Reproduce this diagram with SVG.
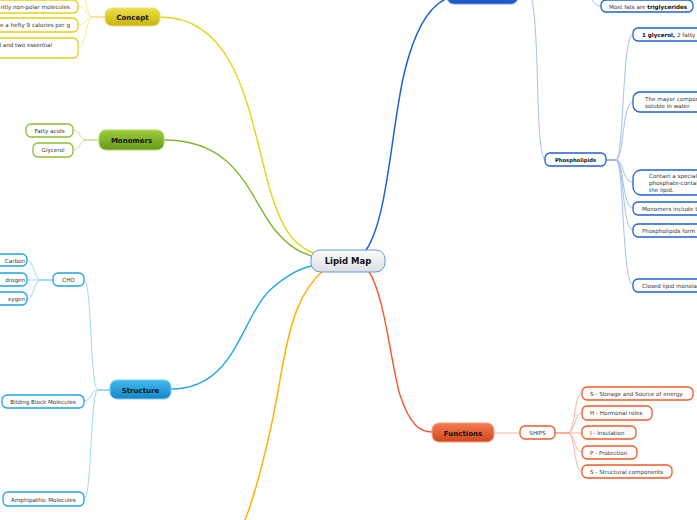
<svg xmlns="http://www.w3.org/2000/svg" width="697" height="520" viewBox="0 0 697 520">
<defs>
<linearGradient id="gC" x1="0" y1="0" x2="0" y2="1"><stop offset="0" stop-color="#fbfbfb"/><stop offset="1" stop-color="#dcdfe3"/></linearGradient>
<linearGradient id="gY" x1="0" y1="0" x2="0" y2="1"><stop offset="0" stop-color="#eee04a"/><stop offset="1" stop-color="#c7b30a"/></linearGradient>
<linearGradient id="gG" x1="0" y1="0" x2="0" y2="1"><stop offset="0" stop-color="#9ccc3c"/><stop offset="1" stop-color="#67981a"/></linearGradient>
<linearGradient id="gB" x1="0" y1="0" x2="0" y2="1"><stop offset="0" stop-color="#40bbf0"/><stop offset="1" stop-color="#1485c6"/></linearGradient>
<linearGradient id="gR" x1="0" y1="0" x2="0" y2="1"><stop offset="0" stop-color="#f47c52"/><stop offset="1" stop-color="#d0461c"/></linearGradient>
<linearGradient id="gD" x1="0" y1="0" x2="0" y2="1"><stop offset="0" stop-color="#3b7fe0"/><stop offset="1" stop-color="#1a55c0"/></linearGradient>
</defs>
<style>
text{font-family:"DejaVu Sans","Liberation Sans",sans-serif;fill:#333}
.main{font-size:7px;font-weight:bold;fill:#111;text-anchor:middle}
.c{font-size:5.6px}
.m{text-anchor:middle}
.e{text-anchor:end}
.b{font-weight:bold;fill:#111}
.sm{font-size:5.2px}
.box{fill:#fff;stroke-width:1.3}
.y{stroke:#e6d010}.g{stroke:#8cc02c}.s{stroke:#1ea2e8}.p{stroke:#1f62d6}.r{stroke:#f05a28}
path{fill:none}
</style>
<g id="connectors">
<path d="M160,17 C240,17 250,120 270,190 C285,240 300,248 316,254" stroke="#e8d21a" stroke-width="1.4"/>
<path d="M164,140 C240,140 250,200 275,230 C290,248 300,252 314,257" stroke="#84b82a" stroke-width="1.4"/>
<path d="M171,389 C235,389 240,320 270,290 C290,272 305,266 318,265" stroke="#1eaaea" stroke-width="1.4"/>
<path d="M325,269 C300,290 290,320 280,380 C270,440 255,495 245,520" stroke="#ffb000" stroke-width="1.5"/>
<path d="M368,270 C385,295 390,360 400,395 C410,425 420,432 432,432" stroke="#f05a28" stroke-width="1.4"/>
<path d="M366,250 C388,220 392,120 405,70 C415,30 430,5 448,-2" stroke="#1f62d6" stroke-width="1.5"/>
<g stroke="#9ab8ee" stroke-width="0.9">
<path d="M532,0 C540,40 535,150 545,160"/>
<path d="M590,-6 C593,4 597,6 601,6"/>
<path d="M606,160 L616,160 C624,160 622,34 633,34"/>
<path d="M606,160 L616,160 C624,160 622,102 633,102"/>
<path d="M606,160 L616,160 C624,160 622,182 633,182"/>
<path d="M606,160 L616,160 C624,160 622,208 633,208"/>
<path d="M606,160 L616,160 C624,160 622,230 633,230"/>
<path d="M606,160 L616,160 C624,160 622,285 633,285"/>
</g>
<g stroke="#f3e68a" stroke-width="0.9">
<path d="M105,17 L93,17 C86,17 86,-10 78,-12"/>
<path d="M105,17 L93,17 C86,17 86,6 78,6"/>
<path d="M105,17 L93,17 C86,17 86,25 78,25"/>
<path d="M105,17 L93,17 C86,17 86,48 78,48"/>
</g>
<g stroke="#bcdc86" stroke-width="0.9">
<path d="M99,140 L86,140 C80,140 80,130 73,130"/>
<path d="M99,140 L86,140 C80,140 80,150 73,150"/>
</g>
<g stroke="#90d4f4" stroke-width="0.9">
<path d="M110,390 L98,390 C90,390 92,280 84,280"/>
<path d="M110,390 L98,390 C90,390 92,401 84,401"/>
<path d="M110,390 L98,390 C90,390 92,499 84,499"/>
<path d="M53,280 L41,280 C34,280 34,260 27,260"/>
<path d="M53,280 L27,280"/>
<path d="M53,280 L41,280 C34,280 34,299 27,299"/>
</g>
<g stroke="#f8ab90" stroke-width="0.9">
<path d="M494,433 L520,433"/>
<path d="M555,433 L568,433 C575,433 574,393 582,393"/>
<path d="M555,433 L568,433 C575,433 574,413 582,413"/>
<path d="M555,433 L582,433"/>
<path d="M555,433 L568,433 C575,433 574,452 582,452"/>
<path d="M555,433 L568,433 C575,433 574,472 582,472"/>
</g>
</g>
<g id="center"><rect x="311" y="250" width="74" height="22" rx="9" fill="url(#gC)" stroke="#5b9bd8" stroke-width="1"/><text x="348" y="264" class="main" style="font-size:8.5px">Lipid Map</text></g>
<g id="concept"><rect x="105" y="8" width="55" height="18" rx="7" fill="url(#gY)" stroke="#ece27a" stroke-width="1"/><text x="132.5" y="20" class="main">Concept</text></g>
<g id="c1"><rect x="-30" y="0" width="108" height="13" rx="5" class="box y"/><text x="70" y="8.5" class="c e">ntly non-polar molecules</text></g>
<g id="c2"><rect x="-30" y="18" width="108" height="14" rx="5" class="box y"/><text x="70" y="27" class="c e">e a hefty 9 calories per g</text></g>
<g id="c3"><rect x="-30" y="38" width="108" height="20" rx="5" class="box y"/><text x="52" y="47" class="c e">d and two essential</text></g>
<g id="monomers"><rect x="99" y="130" width="65" height="20" rx="7" fill="url(#gG)" stroke="#b2d86a" stroke-width="1"/><text x="131.5" y="143" class="main">Monomers</text></g>
<g id="m1"><rect x="26" y="124" width="47" height="13" rx="5" class="box g"/><text x="49.5" y="132.5" class="c m">Fatty acids</text></g>
<g id="m2"><rect x="33" y="143" width="40" height="14" rx="5" class="box g"/><text x="53" y="152" class="c m">Glycerol</text></g>
<g id="structure"><rect x="110" y="380" width="61" height="19" rx="7" fill="url(#gB)" stroke="#7ccdf2" stroke-width="1"/><text x="140.5" y="392.5" class="main">Structure</text></g>
<g id="cho"><rect x="53" y="273" width="31" height="13" rx="5" class="box s"/><text x="68.5" y="282" class="c m">CHO</text></g>
<g id="s1"><rect x="-20" y="254" width="47" height="12" rx="5" class="box s"/><text x="25" y="262.5" class="c e">Carbon</text></g>
<g id="s2"><rect x="-20" y="273" width="47" height="13" rx="5" class="box s"/><text x="25" y="282" class="c e">drogen</text></g>
<g id="s3"><rect x="-20" y="292" width="47" height="13" rx="5" class="box s"/><text x="25" y="301" class="c e">xygen</text></g>
<g id="s4"><rect x="2" y="395" width="82" height="13" rx="5" class="box s"/><text x="43" y="404" class="c m">Bilding Block Molecules</text></g>
<g id="s5"><rect x="3" y="492" width="81" height="14" rx="5" class="box s"/><text x="43.5" y="501.5" class="c m">Amphipathic Molecules</text></g>
<g id="fats"><rect x="447" y="-14" width="71" height="18" rx="7" fill="url(#gD)" stroke="#6a9be8" stroke-width="1"/></g>
<g id="f1"><rect x="601" y="0" width="92" height="12" rx="5" class="box p"/><text x="609" y="8.5" class="c">Most fats are <tspan class="b">triglycerides</tspan></text></g>
<g id="phospho"><rect x="545" y="153" width="61" height="13" rx="5" class="box p"/><text x="575.5" y="162" class="c sm m b">Phospholipids</text></g>
<g id="p1"><rect x="633" y="28" width="120" height="13" rx="5" class="box p"/><text x="642" y="37" class="c"><tspan class="b">1 glycerol,</tspan> 2 fatty</text></g>
<g id="p2"><rect x="633" y="92" width="120" height="20" rx="7" class="box p"/><text x="645" y="101" class="c">The mayor compor</text><text x="645" y="107.5" class="c">soluble in water.</text></g>
<g id="p3"><rect x="633" y="170" width="120" height="25" rx="8" class="box p"/><text x="649" y="177.5" class="c">Contain a special</text><text x="649" y="184.5" class="c">phosphate-contai</text><text x="649" y="191.5" class="c">the lipid.</text></g>
<g id="p4"><rect x="633" y="202" width="120" height="13" rx="5" class="box p"/><text x="642" y="210.5" class="c">Monomers include t</text></g>
<g id="p5"><rect x="633" y="224" width="120" height="13" rx="5" class="box p"/><text x="642" y="232.5" class="c">Phospholipids form l</text></g>
<g id="p6"><rect x="633" y="279" width="120" height="13" rx="5" class="box p"/><text x="642" y="287.5" class="c">Closed lipid monolay</text></g>
<g id="functions"><rect x="432" y="423" width="62" height="19" rx="7" fill="url(#gR)" stroke="#f7a080" stroke-width="1"/><text x="463" y="435.5" class="main">Functions</text></g>
<g id="ships"><rect x="520" y="426" width="35" height="13" rx="5" class="box r"/><text x="537.5" y="435" class="c m">SHIPS</text></g>
<g id="h1"><rect x="582" y="387" width="111" height="13" rx="5" class="box r"/><text x="590" y="396" class="c">S - Storage and Source of energy</text></g>
<g id="h2"><rect x="582" y="406" width="70" height="14" rx="5" class="box r"/><text x="590" y="415" class="c">H - Hormonal roles</text></g>
<g id="h3"><rect x="582" y="426" width="54" height="13" rx="5" class="box r"/><text x="590" y="435" class="c">I - Insulation</text></g>
<g id="h4"><rect x="582" y="446" width="55" height="13" rx="5" class="box r"/><text x="590" y="455" class="c">P - Protection</text></g>
<g id="h5"><rect x="582" y="465" width="90" height="13" rx="5" class="box r"/><text x="590" y="474" class="c">S - Structural components</text></g>
</svg>
